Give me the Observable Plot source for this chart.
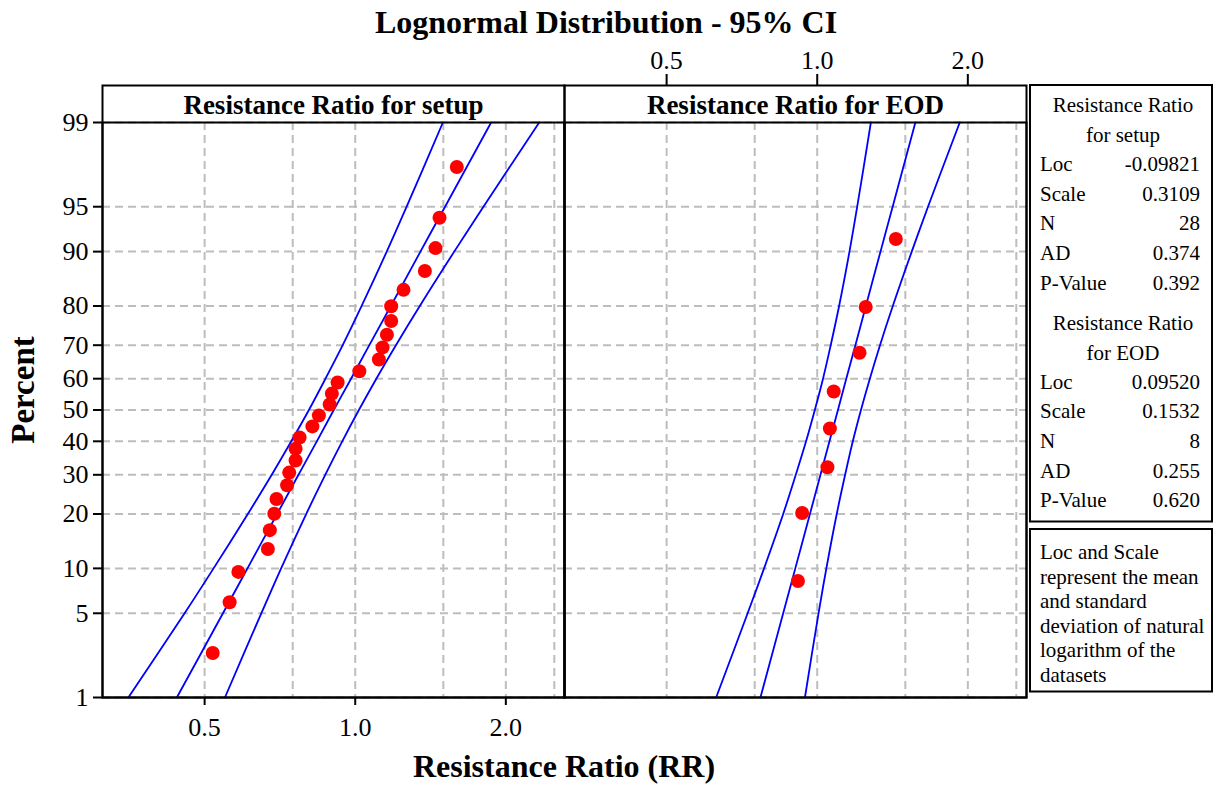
<!DOCTYPE html>
<html>
<head>
<meta charset="utf-8">
<script src="https://cdn.jsdelivr.net/npm/d3@7"></script>
<script src="https://cdn.jsdelivr.net/npm/@observablehq/plot@0.6"></script>
<style>
  html, body { margin: 0; padding: 0; background: #fff; }
  #chart { position: relative; width: 1223px; height: 785px; }
</style>
</head>
<body>
<div id="chart"></div>
<script>
// ---------- data ----------
const panels = ["Resistance Ratio for setup", "Resistance Ratio for EOD"];

// observed points (median-rank percent, resistance ratio)
const setupRR = [0.519, 0.561, 0.584, 0.669, 0.675, 0.689, 0.696, 0.731, 0.738, 0.760, 0.760, 0.774, 0.821, 0.846,
                 0.889, 0.898, 0.922, 1.019, 1.115, 1.134, 1.157, 1.180, 1.180, 1.249, 1.378, 1.447, 1.474, 1.596];
const setupPct = [2.46, 5.99, 9.51, 13.03, 16.55, 20.07, 23.59, 27.11, 30.63, 34.15, 37.68, 41.20, 44.72, 48.24,
                  51.76, 55.28, 58.80, 62.32, 65.85, 69.37, 72.89, 76.41, 79.93, 83.45, 86.97, 90.49, 94.01, 97.54];
const eodRR = [0.915, 0.933, 1.048, 1.060, 1.079, 1.215, 1.250, 1.436];
const eodPct = [8.33, 20.24, 32.14, 44.05, 55.95, 67.86, 79.76, 91.67];

// fitted line and 95% CI curves read at these percents
const curvePct = [1, 5, 10, 20, 30, 40, 50, 60, 70, 80, 90, 95, 99];
const setupFit   = [0.440, 0.544, 0.609, 0.698, 0.770, 0.838, 0.906, 0.981, 1.067, 1.178, 1.350, 1.512, 1.869];
const setupLower = [0.352, 0.456, 0.521, 0.610, 0.681, 0.745, 0.808, 0.872, 0.944, 1.030, 1.156, 1.267, 1.497];
const setupUpper = [0.549, 0.649, 0.711, 0.798, 0.871, 0.942, 1.017, 1.102, 1.206, 1.346, 1.577, 1.804, 2.332];
const eodFit   = [0.770, 0.855, 0.904, 0.967, 1.015, 1.058, 1.100, 1.143, 1.192, 1.251, 1.338, 1.415, 1.571];
const eodLower = [0.628, 0.726, 0.783, 0.855, 0.906, 0.950, 0.989, 1.027, 1.064, 1.106, 1.160, 1.202, 1.280];
const eodUpper = [0.945, 1.006, 1.043, 1.094, 1.137, 1.178, 1.223, 1.274, 1.335, 1.416, 1.545, 1.665, 1.927];

// axes
const pctTicks = [1, 5, 10, 20, 30, 40, 50, 60, 70, 80, 90, 95, 99];
const xTicks = [0.5, 1.0, 2.0];
const xGrid = [0.5, 0.75, 1.0, 1.5, 2.0, 2.5];

// statistics table
const statLabels = ["Loc", "Scale", "N", "AD", "P-Value"];
const setupStats = ["-0.09821", "0.3109", "28", "0.374", "0.392"];
const eodStats = ["0.09520", "0.1532", "8", "0.255", "0.620"];
const setupHeader = ["Resistance Ratio", "for setup"];
const eodHeader = ["Resistance Ratio", "for EOD"];
const noteLines = ["Loc and Scale", "represent the mean", "and standard", "deviation of natural", "logarithm of the", "datasets"];

const titleText = "Lognormal Distribution - 95% CI";
const xLabel = "Resistance Ratio (RR)";
const yLabel = "Percent";

// ---------- normal probability (probit) transform for the y axis ----------
function probit(p) {
  const a = [-3.969683028665376e+01, 2.209460984245205e+02, -2.759285104469687e+02, 1.383577518672690e+02, -3.066479806614716e+01, 2.506628277459239e+00];
  const b = [-5.447609879822406e+01, 1.615858368580409e+02, -1.556989798598866e+02, 6.680131188771972e+01, -1.328068155288572e+01];
  const c = [-7.784894002430293e-03, -3.223964580411365e-01, -2.400758277161838e+00, -2.549732539343734e+00, 4.374664141464968e+00, 2.938163982698783e+00];
  const d = [7.784695709041462e-03, 3.224671290700398e-01, 2.445134137142996e+00, 3.754408661907416e+00];
  const pl = 0.02425, ph = 1 - pl;
  if (p < pl) {
    const q = Math.sqrt(-2 * Math.log(p));
    return (((((c[0]*q+c[1])*q+c[2])*q+c[3])*q+c[4])*q+c[5]) / ((((d[0]*q+d[1])*q+d[2])*q+d[3])*q+1);
  }
  if (p <= ph) {
    const q = p - 0.5, r = q * q;
    return (((((a[0]*r+a[1])*r+a[2])*r+a[3])*r+a[4])*r+a[5])*q / (((((b[0]*r+b[1])*r+b[2])*r+b[3])*r+b[4])*r+1);
  }
  const q = Math.sqrt(-2 * Math.log(1 - p));
  return -(((((c[0]*q+c[1])*q+c[2])*q+c[3])*q+c[4])*q+c[5]) / ((((d[0]*q+d[1])*q+d[2])*q+d[3])*q+1);
}

// ---------- build tables ----------
const points = [
  ...setupRR.map((v, i) => ({panel: panels[0], x: v, z: probit(setupPct[i] / 100)})),
  ...eodRR.map((v, i) => ({panel: panels[1], x: v, z: probit(eodPct[i] / 100)}))
];
const curves = [];
[[panels[0], "fit", setupFit], [panels[0], "lower", setupLower], [panels[0], "upper", setupUpper],
 [panels[1], "fit", eodFit], [panels[1], "lower", eodLower], [panels[1], "upper", eodUpper]]
  .forEach(([panel, name, arr]) => arr.forEach((v, i) =>
    curves.push({panel, curve: panel + name, x: v, z: probit(curvePct[i] / 100)})));

const zTicks = pctTicks.map(p => probit(p / 100));
const zLabel = new Map(zTicks.map((z, i) => [z, String(pctTicks[i])]));

const gridStyle = {stroke: "#bdbdbd", strokeOpacity: 1, strokeWidth: 2, strokeDasharray: "8,5"};
const serif = "'Liberation Serif', 'Times New Roman', serif";

const svg = Plot.plot({
  width: 1223,
  height: 785,
  marginLeft: 102,
  marginRight: 197,
  marginTop: 122,
  marginBottom: 88,
  style: {fontFamily: serif, background: "white", color: "black", overflow: "visible"},
  x: {type: "log", domain: [0.3125, 2.62]},
  y: {domain: [probit(0.01), probit(0.99)]},
  fx: {domain: panels, padding: 0, axis: null},
  marks: [
    Plot.gridX(xGrid, gridStyle),
    Plot.gridY(zTicks, gridStyle),
    Plot.line(curves, {x: "x", y: "z", z: "curve", fx: "panel", stroke: "#0000ff", strokeWidth: 1.8, curve: "catmull-rom"}),
    Plot.dot(points, {x: "x", y: "z", fx: "panel", r: 7, fill: "#ff0000", stroke: "none"}),
    Plot.frame({stroke: "black", strokeWidth: 2}),
    Plot.frame({stroke: "black", strokeWidth: 2, insetTop: -37}),
    Plot.text(panels, {fx: d => d, text: d => d, frameAnchor: "top", dy: -9, lineAnchor: "bottom",
                       fontSize: 27, fontWeight: "bold", fill: "black"}),
    Plot.axisY(zTicks, {tickFormat: z => zLabel.get(z), fontSize: 26, tickSize: 9, tickPadding: 5,
                        strokeWidth: 2, label: null, stroke: "black", fill: "black"}),
    Plot.axisX(xTicks, {anchor: "bottom", facetAnchor: "left", tickFormat: d => d.toFixed(1), fontSize: 26,
                        tickSize: 8, tickPadding: 12, strokeWidth: 2, label: null, stroke: "black", fill: "black"}),
    Plot.tickX(xTicks, {x: d => d, fx: () => panels[1], insetTop: -48, insetBottom: 612, stroke: "black", strokeWidth: 2}),
    Plot.text(xTicks, {x: d => d, fx: () => panels[1], text: d => d.toFixed(1), frameAnchor: "top", dy: -54,
                       lineAnchor: "bottom", fontSize: 26, fill: "black"})
  ]
});
svg.style.position = "absolute";
svg.style.left = "0px";
svg.style.top = "0px";
document.getElementById("chart").appendChild(svg);

// ---------- titles, labels and statistics boxes ----------
const s = d3.select(svg);
const g = s.append("g").attr("font-family", serif).attr("fill", "black").attr("text-anchor", "start");

g.append("text").attr("x", 606).attr("y", 33).attr("text-anchor", "middle")
  .attr("font-size", 32).attr("font-weight", "bold").text(titleText);
g.append("text").attr("x", 564).attr("y", 777).attr("text-anchor", "middle")
  .attr("font-size", 32).attr("font-weight", "bold").text(xLabel);
g.append("text").attr("transform", "translate(34,390) rotate(-90)").attr("text-anchor", "middle")
  .attr("font-size", 33).attr("font-weight", "bold").text(yLabel);

const boxL = 1030, boxR = 1212;
g.append("rect").attr("x", boxL).attr("y", 85).attr("width", boxR - boxL).attr("height", 436.5)
  .attr("fill", "white").attr("stroke", "black").attr("stroke-width", 2);
g.append("rect").attr("x", boxL).attr("y", 529).attr("width", boxR - boxL).attr("height", 162.5)
  .attr("fill", "white").attr("stroke", "black").attr("stroke-width", 2);

const fs = 21;
function block(header, stats, y0) {
  header.forEach((h, i) => g.append("text").attr("x", (boxL + boxR) / 2 + 2).attr("y", y0 + i * 30)
    .attr("text-anchor", "middle").attr("font-size", fs).text(h));
  statLabels.forEach((lab, i) => {
    const y = y0 + (i + 2) * 29.6;
    g.append("text").attr("x", 1040).attr("y", y).attr("text-anchor", "start").attr("font-size", fs).text(lab);
    g.append("text").attr("x", 1200).attr("y", y).attr("text-anchor", "end").attr("font-size", fs).text(stats[i]);
  });
}
block(setupHeader, setupStats, 112);
block(eodHeader, eodStats, 329.5);

noteLines.forEach((line, i) => g.append("text").attr("x", 1040).attr("y", 559 + i * 24.5)
  .attr("text-anchor", "start").attr("font-size", fs).text(line));
</script>
</body>
</html>
